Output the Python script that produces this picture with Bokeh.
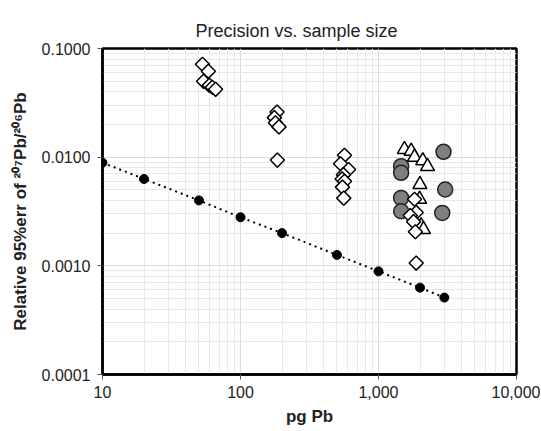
import numpy as np
from bokeh.plotting import figure
from bokeh.models import FixedTicker, NumeralTickFormatter, Range1d
from bokeh.embed import file_html
from bokeh.resources import INLINE

# Theoretical precision line (black dots, dotted line)
line_x = [10, 20, 50, 100, 200, 500, 1000, 2000, 3000]
line_y = [0.0089, 0.0063, 0.0040, 0.0028, 0.0020, 0.00126, 0.00089, 0.00063, 0.00051]

# Open diamonds
dia_x = [53, 58.5, 54, 59.5, 62.5, 66,
         184, 176, 179, 190, 185,
         567, 531, 607, 557, 545, 567, 548, 560,
         1824, 1876, 1700, 1795, 1850, 1876]
dia_y = [0.0716, 0.0617, 0.0499, 0.0458, 0.0440, 0.0421,
         0.0260, 0.0231, 0.0207, 0.0190, 0.0094,
         0.0104, 0.0087, 0.0077, 0.0069, 0.0063, 0.0060, 0.0053, 0.0042,
         0.0041, 0.0031, 0.0029, 0.00255, 0.00206, 0.00106]

# Open triangles
tri_x = [1541, 1725, 1824, 2094, 2265, 1995, 1985, 2037, 2118]
tri_y = [0.0118, 0.01136, 0.0100, 0.0093, 0.0082, 0.0056, 0.0041, 0.00234, 0.00216]

# Grey circles
cir_x = [1459, 1459, 1459, 1459, 2958, 3043, 2896]
cir_y = [0.00826, 0.00718, 0.00422, 0.00318, 0.0112, 0.00504, 0.00307]

x_ticks = [10, 100, 1000, 10000]
y_ticks = [0.0001, 0.001, 0.01, 0.1]

FONT = "Liberation Sans"

p = figure(width=540, height=430, x_axis_type="log", y_axis_type="log",
           x_range=Range1d(10, 10000), y_range=Range1d(0.0001, 0.1),
           output_backend="svg", toolbar_location=None,
           title="Precision vs. sample size",
           min_border_left=102, min_border_right=24, min_border_top=48, min_border_bottom=56)

p.title.align = "left"
p.title.offset = 93
p.title.text_font = FONT
p.title.text_font_size = "18px"
p.title.text_font_style = "normal"
p.title.text_color = "#222222"
p.title.standoff = 15

x_minor = [m * d for d in x_ticks[:-1] for m in range(2, 10)]
y_minor = [m * d for d in y_ticks[:-1] for m in range(2, 10)]
p.xaxis.ticker = FixedTicker(ticks=x_ticks, minor_ticks=x_minor)
p.yaxis.ticker = FixedTicker(ticks=y_ticks, minor_ticks=y_minor)
p.xaxis.formatter = NumeralTickFormatter(format="0,0")
p.yaxis.formatter = NumeralTickFormatter(format="0.0000")

for ax in (p.xaxis, p.yaxis):
    ax.major_label_text_font = FONT
    ax.major_label_text_font_size = "16px"
    ax.major_label_text_color = "#222222"
    ax.axis_label_text_font = FONT
    ax.axis_label_text_font_size = "17px"
    ax.axis_label_text_font_style = "bold"
    ax.axis_label_text_color = "#222222"
    ax.axis_line_color = "black"
    ax.axis_line_width = 2.5
    ax.major_tick_in = 0
    ax.major_tick_out = 5
    ax.major_tick_line_color = "#555555"
    ax.minor_tick_line_color = None

p.xaxis.axis_label = "pg Pb"
p.yaxis.axis_label = "Relative 95%err of \u00b2\u2070\u2077Pb/\u00b2\u2070\u2076Pb"
p.xaxis.major_label_standoff = 6
p.yaxis.major_label_standoff = 7
p.xaxis.axis_label_standoff = 6
p.yaxis.axis_label_standoff = 9

p.outline_line_color = "black"
p.outline_line_width = 2.5
p.outline_line_alpha = 1.0

for g in (p.xgrid, p.ygrid):
    g.grid_line_color = "#dadada"
    g.grid_line_width = 1
    g.minor_grid_line_color = "#e8e8e8"
    g.minor_grid_line_width = 1

p.line(line_x, line_y, line_color="black", line_width=2, line_dash="2 4")
p.scatter(line_x, line_y, marker="circle", size=9, fill_color="black", line_color="black")

p.scatter(cir_x, cir_y, marker="circle", size=15, fill_color="#7f7f7f",
          line_color="#222222", line_width=1.5)
p.scatter(tri_x, tri_y, marker="triangle", size=14, fill_color="white",
          line_color="black", line_width=1.5)
p.scatter(dia_x, dia_y, marker="square", angle=np.pi / 4, size=10, fill_color="white",
          line_color="black", line_width=1.5)

open("out.html", "w").write(file_html(p, INLINE))
